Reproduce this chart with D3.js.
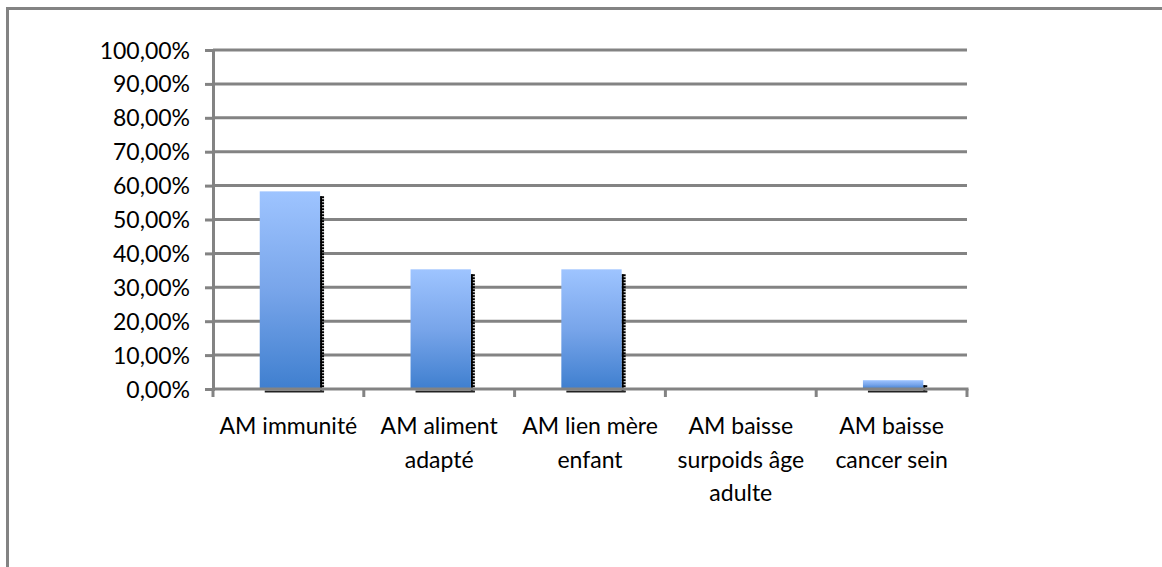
<!DOCTYPE html>
<html><head><meta charset="utf-8">
<script src="https://cdn.jsdelivr.net/npm/d3@7"></script>
<style>body{margin:0;background:#fff}svg{display:block}</style>
</head><body>
<svg id="c" width="1162" height="567"></svg>
<script>
const categories = ["AM immunité", "AM aliment\nadapté", "AM lien mère\nenfant", "AM baisse\nsurpoids âge\nadulte", "AM baisse\ncancer sein"];
const values = [58.3, 35.3, 35.3, 0, 2.6];
const yTicks = [0, 10, 20, 30, 40, 50, 60, 70, 80, 90, 100];
const tickLabels = yTicks.map(v => v.toFixed(2).replace(".", ",") + "%");

const svg = d3.select("#c");
const font = "Lato, 'Open Sans', sans-serif";
const grid = "#838383";

// outer frame (extends off-page right and bottom)
svg.append("path").attr("d", "M7.5,580 V8.5 H1175").attr("fill", "none").attr("stroke", grid).attr("stroke-width", 3);

const x0 = 213, x1 = 967, yTop = 50, yBot = 389;
const x = d3.scaleBand().domain(categories).range([x0, x1]).paddingInner(0.6).paddingOuter(0.3);
const y = d3.scaleLinear().domain([0, 100]).range([yBot, yTop]);

const defs = svg.append("defs");
const g = defs.append("linearGradient").attr("id", "bg").attr("x1", 0).attr("y1", 0).attr("x2", 0).attr("y2", 1);
g.append("stop").attr("offset", "0%").attr("stop-color", "#9ec4ff");
g.append("stop").attr("offset", "50%").attr("stop-color", "#78a5ea");
g.append("stop").attr("offset", "100%").attr("stop-color", "#3f7fcf");

// gridlines
svg.append("g").selectAll("line").data(yTicks.filter(d => d > 0)).join("line")
  .attr("x1", x0).attr("x2", x1).attr("y1", d => y(d)).attr("y2", d => y(d))
  .attr("stroke", grid).attr("stroke-width", 3);

// y axis
const yAxis = d3.axisLeft(y).tickValues(yTicks).tickSize(8).tickPadding(15).tickFormat((d, i) => tickLabels[i]);
const ya = svg.append("g").attr("transform", `translate(${x0},0)`).call(yAxis);
ya.select(".domain").attr("stroke", grid).attr("stroke-width", 3);
ya.selectAll(".tick line").attr("stroke", grid).attr("stroke-width", 3);
ya.selectAll(".tick text").attr("font-family", font).attr("font-size", 23).attr("fill", "#000").attr("dy", "0.35em");

// shadows
const bw = x.bandwidth();
const sh = svg.append("g");
values.forEach((v, i) => {
  if (v <= 0) return;
  const bx = x(categories[i]) + 1.5;
  const top = y(v);
  sh.append("line").attr("x1", bx + bw + 2).attr("x2", bx + bw + 2).attr("y1", top + 5).attr("y2", yBot + 3)
    .attr("stroke", "#000").attr("stroke-width", 4).attr("stroke-dasharray", "2,1");
  sh.append("line").attr("x1", bx + bw + 1).attr("x2", bx + bw + 1).attr("y1", top + 5).attr("y2", yBot + 3)
    .attr("stroke", "#000").attr("stroke-width", 2);
  sh.append("line").attr("x1", bx + 5).attr("x2", bx + bw + 4).attr("y1", yBot + 2.5).attr("y2", yBot + 2.5)
    .attr("stroke", "#222").attr("stroke-width", 2);
});

// bars
svg.append("g").selectAll("rect").data(values).join("rect")
  .attr("x", (d, i) => x(categories[i]) + 1.5)
  .attr("width", bw)
  .attr("y", d => y(d))
  .attr("height", d => yBot - y(d))
  .attr("fill", "url(#bg)");

// x axis
const xa = svg.append("g");
xa.append("line").attr("x1", x0).attr("x2", x1 + 1.5).attr("y1", yBot).attr("y2", yBot).attr("stroke", grid).attr("stroke-width", 3);
const bounds = d3.range(categories.length + 1).map(i => x0 + (x1 - x0) * i / categories.length);
xa.selectAll("line.t").data(bounds).join("line").attr("class", "t")
  .attr("x1", d => d).attr("x2", d => d).attr("y1", yBot).attr("y2", yBot + 8)
  .attr("stroke", grid).attr("stroke-width", 3);

// category labels
const lbl = svg.append("g").attr("font-family", font).attr("font-size", 23).attr("text-anchor", "middle").attr("fill", "#000");
categories.forEach((c, i) => {
  const cx = x(c) + bw / 2;
  const t = lbl.append("text").attr("x", cx).attr("y", 434);
  c.split("\n").forEach((line, j) => {
    t.append("tspan").attr("x", cx).attr("dy", j === 0 ? 0 : 33.5).text(line);
  });
});
</script>
</body></html>
